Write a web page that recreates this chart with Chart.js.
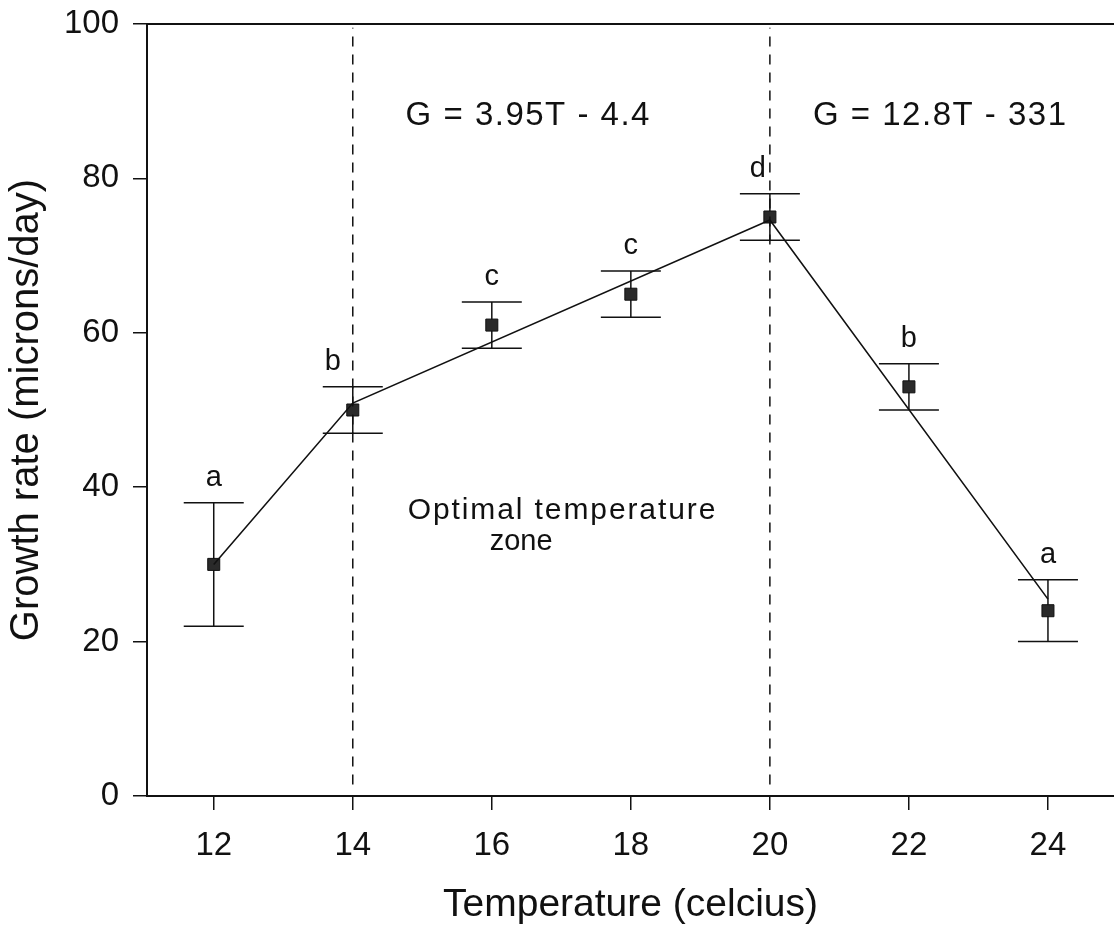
<!DOCTYPE html>
<html>
<head>
<meta charset="utf-8">
<script src="https://cdn.jsdelivr.net/npm/chart.js@4"></script>
<style>
  body { margin: 0; background: #fff; overflow: hidden; }
  #wrap { width: 1114px; height: 929px; }
</style>
</head>
<body>
<div id="wrap"><canvas id="growthChart"></canvas></div>
<script>
const temps = [12, 14, 16, 18, 20, 22, 24];
const growth = [30, 50, 61, 65, 75, 53, 24];
const errLow = [22, 47, 58, 62, 72, 50, 20];
const errHigh = [38, 53, 64, 68, 78, 56, 28];
const sigLetters = ['a', 'b', 'c', 'c', 'd', 'b', 'a'];

// piecewise regression line, vertices
const fitTemps = [12, 14, 20, 24];
const fitGrowth = [30, 50.9, 74.6, 25.5];

const zoneBounds = [14, 20];
const xTicks = [12, 14, 16, 18, 20, 22, 24];
const yTicks = [0, 20, 40, 60, 80, 100];

const FONT = "'Liberation Sans', Arial, sans-serif";
const INK = '#111';

const annotations = {
  id: 'annotations',
  beforeDatasetsDraw(chart) {
    const { ctx, scales: { x, y } } = chart;
    ctx.save();
    ctx.strokeStyle = INK;
    ctx.lineWidth = 1.5;
    temps.forEach((t, i) => {
      const px = x.getPixelForValue(t);
      const top = y.getPixelForValue(errHigh[i]);
      const bot = y.getPixelForValue(errLow[i]);
      ctx.beginPath();
      ctx.moveTo(px, top); ctx.lineTo(px, bot);
      ctx.moveTo(px - 30, top); ctx.lineTo(px + 30, top);
      ctx.moveTo(px - 30, bot); ctx.lineTo(px + 30, bot);
      ctx.stroke();
    });
    ctx.restore();
  },
  afterDatasetsDraw(chart) {
    const { ctx, chartArea, scales: { x, y } } = chart;
    ctx.save();
    // top frame line
    ctx.strokeStyle = INK;
    ctx.lineWidth = 2;
    ctx.beginPath();
    ctx.moveTo(chartArea.left, chartArea.top);
    ctx.lineTo(chartArea.right, chartArea.top);
    ctx.stroke();

    ctx.fillStyle = INK;
    // significance letters
    const nudge = { 14: -20, 20: -12 };
    ctx.font = '29px ' + FONT;
    ctx.textAlign = 'center';
    ctx.textBaseline = 'alphabetic';
    temps.forEach((t, i) => {
      const px = x.getPixelForValue(t) + (nudge[t] || 0);
      const py = y.getPixelForValue(errHigh[i]) - 17;
      ctx.fillText(sigLetters[i], px, py);
    });

    // equations and zone label
    ctx.textAlign = 'left';
    ctx.font = '33px ' + FONT;
    ctx.letterSpacing = '1.5px';
    ctx.fillText('G = 3.95T - 4.4', x.getPixelForValue(14.76), y.getPixelForValue(86.9));
    ctx.fillText('G = 12.8T - 331', x.getPixelForValue(20.62), y.getPixelForValue(86.9));
    ctx.font = '30px ' + FONT;
    ctx.letterSpacing = '1.9px';
    ctx.fillText('Optimal temperature', x.getPixelForValue(14.79), y.getPixelForValue(35.9));
    ctx.font = '29px ' + FONT;
    ctx.letterSpacing = '0px';
    ctx.fillText('zone', x.getPixelForValue(15.97), y.getPixelForValue(31.9));
    ctx.restore();
  }
};

const datasets = [];
zoneBounds.forEach(b => {
  datasets.push({
    data: [{ x: b, y: 1.5 }, { x: b, y: 99.5 }],
    showLine: true,
    borderColor: INK,
    borderWidth: 1.5,
    borderDash: [10, 8],
    pointRadius: 0
  });
});
datasets.push({
  data: fitTemps.map((t, i) => ({ x: t, y: fitGrowth[i] })),
  showLine: true,
  borderColor: INK,
  borderWidth: 1.6,
  pointRadius: 0,
  tension: 0
});
datasets.push({
  data: temps.map((t, i) => ({ x: t, y: growth[i] })),
  showLine: false,
  pointStyle: 'rect',
  pointRadius: 8.5,
  pointBackgroundColor: '#2a2a2a',
  pointBorderColor: INK,
  pointBorderWidth: 1
});

new Chart(document.getElementById('growthChart'), {
  type: 'scatter',
  data: { datasets },
  plugins: [annotations],
  options: {
    responsive: true,
    maintainAspectRatio: false,
    animation: false,
    layout: { autoPadding: false, padding: { top: 24, right: 0, left: 0, bottom: 0 } },
    plugins: { legend: { display: false }, tooltip: { enabled: false } },
    scales: {
      x: {
        type: 'linear',
        min: 11.04,
        max: 24.95,
        afterBuildTicks: s => { s.ticks = xTicks.map(v => ({ value: v })); },
        afterFit: s => { s.height = 133; s.paddingLeft = 0; s.paddingRight = 0; },
        ticks: { color: INK, font: { family: FONT, size: 33 }, padding: 16, maxRotation: 0 },
        grid: { display: true, drawOnChartArea: false, color: INK, lineWidth: 1.5, tickLength: 14 },
        border: { display: true, color: INK, width: 2 },
        title: {
          display: true,
          text: 'Temperature (celcius)',
          color: INK,
          font: { family: FONT, size: 39 },
          padding: { top: 0, bottom: 0 }
        }
      },
      y: {
        min: 0,
        max: 100,
        afterBuildTicks: s => { s.ticks = yTicks.map(v => ({ value: v })); },
        afterFit: s => { s.width = 147; s.paddingTop = 0; s.paddingBottom = 0; },
        ticks: { color: INK, font: { family: FONT, size: 33 }, padding: 14 },
        grid: { display: true, drawOnChartArea: false, color: INK, lineWidth: 1.5, tickLength: 14 },
        border: { display: true, color: INK, width: 2 },
        title: {
          display: true,
          text: 'Growth rate (microns/day)',
          color: INK,
          font: { family: FONT, size: 40 },
          padding: { top: 3, bottom: 0 }
        }
      }
    }
  }
});
</script>
</body>
</html>
